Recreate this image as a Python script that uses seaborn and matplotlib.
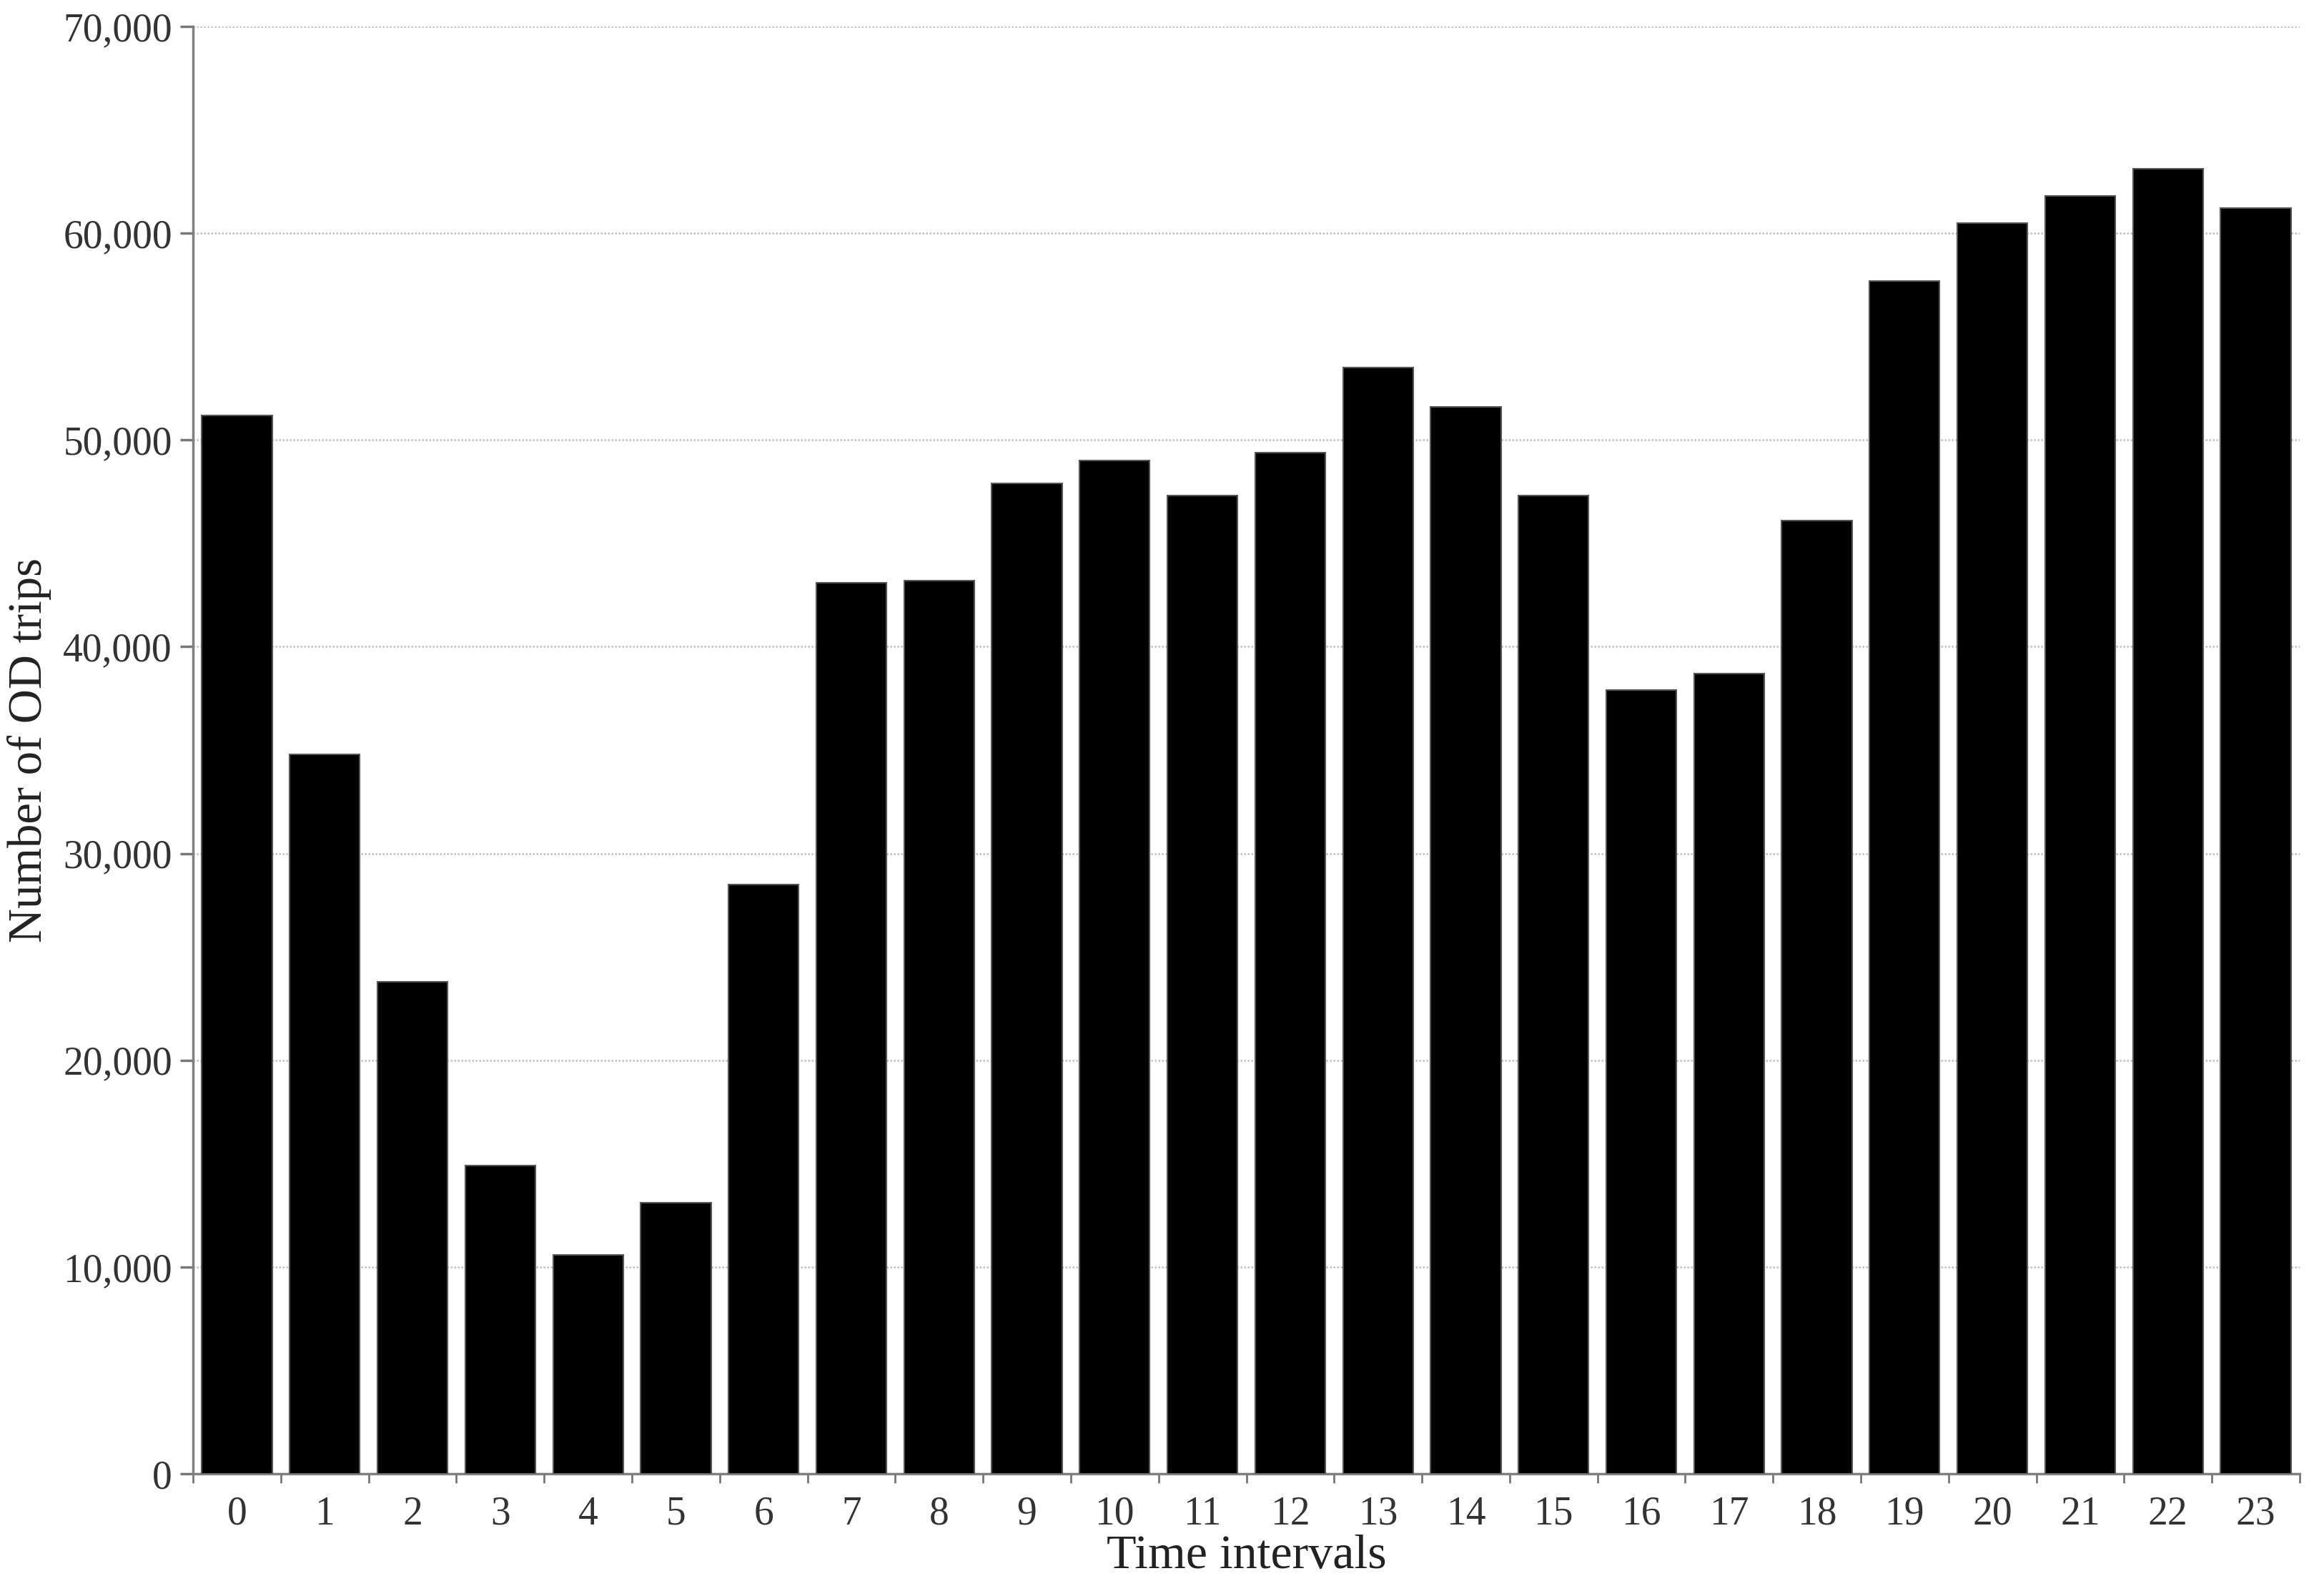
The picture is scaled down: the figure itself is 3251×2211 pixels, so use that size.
import matplotlib
matplotlib.use("Agg")
import matplotlib.pyplot as plt
import matplotlib.ticker as mticker
import seaborn as sns
import pandas as pd

intervals = [str(i) for i in range(24)]
trips = [51200, 34800, 23800, 14900, 10600, 13100, 28500, 43100, 43200, 47900,
         49000, 47300, 49400, 53500, 51600, 47300, 37900, 38700, 46100, 57700,
         60500, 61800, 63100, 61200]
y_ticks = [0, 10000, 20000, 30000, 40000, 50000, 60000, 70000]

df = pd.DataFrame({"interval": intervals, "trips": trips})

sns.set_theme(style="white")
plt.rcParams["font.family"] = ["Liberation Serif", "DejaVu Serif"]

fig = plt.figure(figsize=(32.51, 22.11), dpi=100)
ax = fig.add_axes([0.0831, 0.0678, 0.9064, 0.9155])

sns.barplot(data=df, x="interval", y="trips", color="black", width=0.8,
            edgecolor="#555555", linewidth=1.5, saturation=1, ax=ax, zorder=3)

ax.set_ylim(0, 70000)
ax.set_xlim(-0.5, 23.5)
ax.set_yticks(y_ticks)
ax.yaxis.set_major_formatter(mticker.StrMethodFormatter("{x:,.0f}"))

# category boundaries as major ticks, labels on minor ticks at centers
ax.set_xticks([i - 0.5 for i in range(25)])
ax.set_xticklabels([])
ax.set_xticks(range(24), minor=True)
ax.set_xticklabels(intervals, minor=True)
ax.tick_params(axis="x", which="major", length=9, width=2, color="#777777", direction="out", bottom=True)
ax.tick_params(axis="x", which="minor", length=0, pad=22, labelsize=40, labelcolor="#333333", bottom=True)
ax.tick_params(axis="y", which="major", length=13, width=2.5, color="#777777", direction="out",
               pad=8, labelsize=40, labelcolor="#333333", left=True)

ax.yaxis.grid(True, linestyle=(0, (1, 1)), color="#bdbdbd", linewidth=1.8, zorder=0)
ax.xaxis.grid(False)
ax.set_axisbelow(True)

for side in ["top", "right"]:
    ax.spines[side].set_visible(False)
for side in ["left", "bottom"]:
    ax.spines[side].set_color("#808080")
    ax.spines[side].set_linewidth(2.5)

ax.set_xlabel("Time intervals", fontsize=49, color="#222222", labelpad=2)
ax.set_ylabel("Number of OD trips", fontsize=48, color="#222222", labelpad=12)

fig.savefig("out.png", dpi=100, facecolor="white")
